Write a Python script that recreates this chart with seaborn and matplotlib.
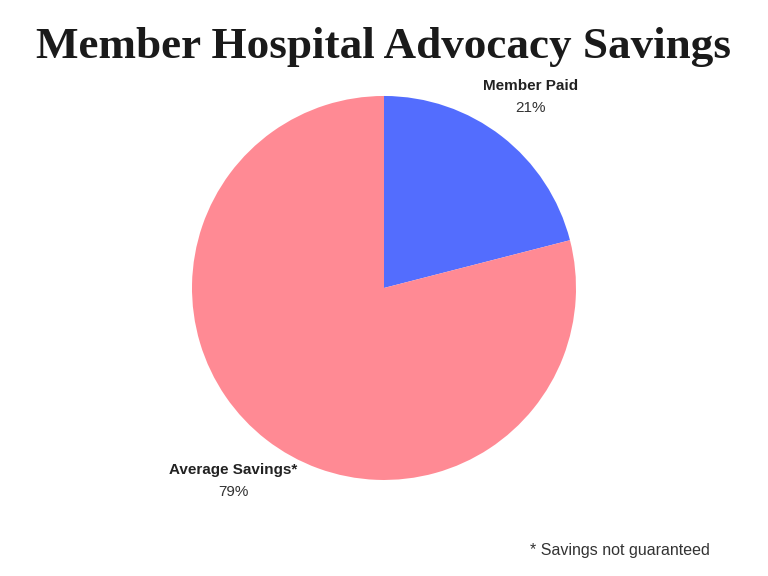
import matplotlib
matplotlib.use("Agg")
import matplotlib.pyplot as plt
import seaborn as sns

labels = ["Member Paid", "Average Savings*"]
shares = [21, 79]
colors = ["#536DFE", "#FF8A94"]

sns.set_theme(style="white")
plt.rcParams['font.family'] = ['Liberation Sans', 'DejaVu Sans']

fig = plt.figure(figsize=(7.68, 5.76), dpi=100)
ax = fig.add_axes([0.25, 0.1667, 0.5, 0.6667])
ax.pie(shares, colors=colors, startangle=90, counterclock=False,
       wedgeprops=dict(linewidth=0))
ax.set_xlim(-1, 1)
ax.set_ylim(-1, 1)
ax.set_aspect('equal')
ax.axis('off')

fig.text(0.5, 1 - 47 / 576, "Member Hospital Advocacy Savings",
         ha='center', va='center', fontsize=32.5, fontweight='heavy',
         family=['Liberation Serif', 'DejaVu Serif'], color='#1a1a1a')

# wedge labels
lab_pos = [(531, 86), (233, 470)]
for (px, py), name, v in zip(lab_pos, labels, shares):
    fig.text(px / 768, 1 - py / 576, name, ha='center', va='center',
             fontsize=11, fontweight='bold', color='#222222')
    fig.text(px / 768, 1 - (py + 22) / 576, f"{v}%", ha='center', va='center',
             fontsize=11, color='#333333')

fig.text(620 / 768, 1 - 550 / 576, "* Savings not guaranteed", ha='center',
         va='center', fontsize=11.5, color='#333333')

fig.savefig("out.png", dpi=100)
